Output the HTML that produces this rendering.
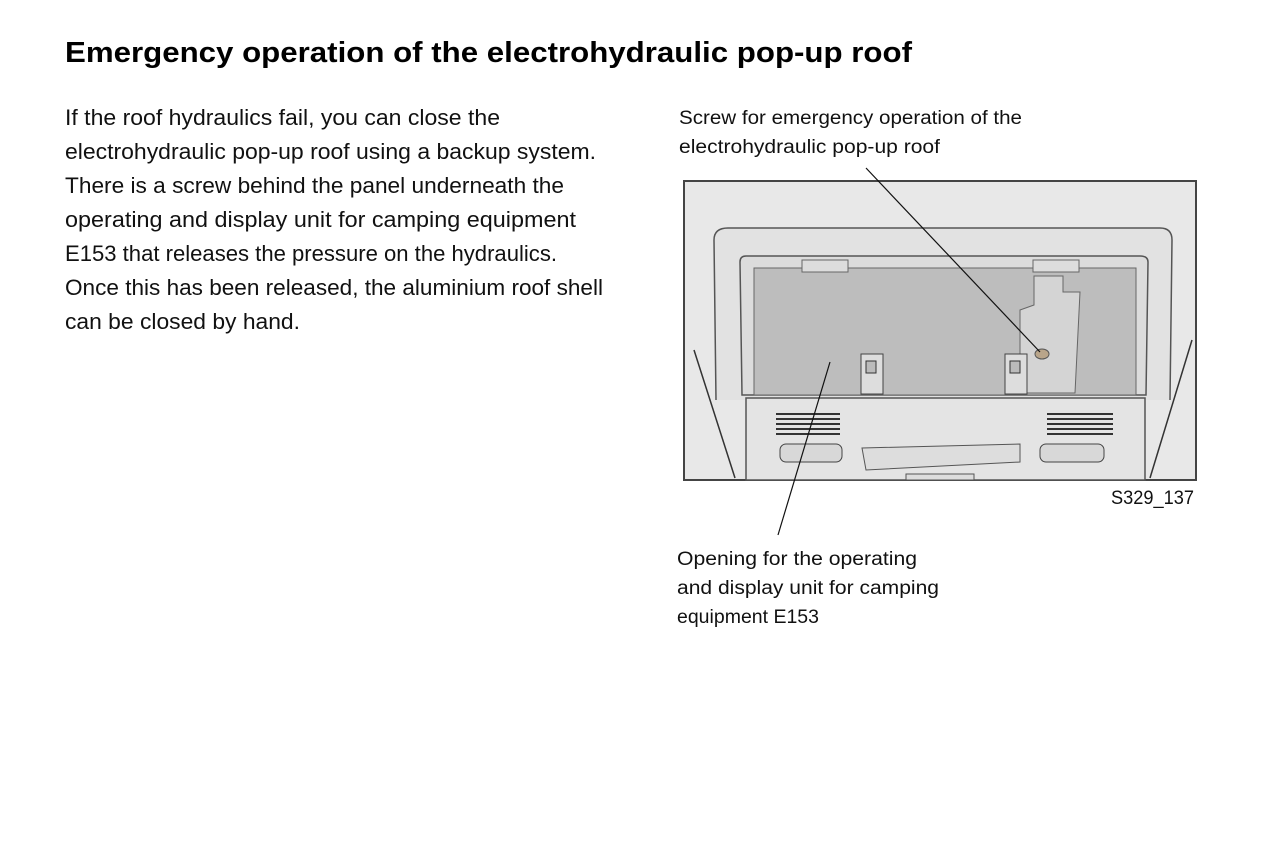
<!DOCTYPE html>
<html><head><meta charset="utf-8"><style>html,body{margin:0;padding:0;background:#fff}svg{display:block}</style></head>
<body>
<svg width="1284" height="850" viewBox="0 0 1284 850" xmlns="http://www.w3.org/2000/svg" font-family="Liberation Sans, sans-serif">
<text x="65" y="62" font-size="29" font-weight="bold" textLength="847" lengthAdjust="spacingAndGlyphs">Emergency operation of the electrohydraulic pop-up roof</text>
<g font-size="22" fill="#111" lengthAdjust="spacingAndGlyphs">
<text x="65" y="125" textLength="435" lengthAdjust="spacingAndGlyphs">If the roof hydraulics fail, you can close the</text>
<text x="65" y="159" textLength="531" lengthAdjust="spacingAndGlyphs">electrohydraulic pop-up roof using a backup system.</text>
<text x="65" y="193" textLength="499" lengthAdjust="spacingAndGlyphs">There is a screw behind the panel underneath the</text>
<text x="65" y="227" textLength="511" lengthAdjust="spacingAndGlyphs">operating and display unit for camping equipment</text>
<text x="65" y="261" textLength="492" lengthAdjust="spacingAndGlyphs">E153 that releases the pressure on the hydraulics.</text>
<text x="65" y="295" textLength="538" lengthAdjust="spacingAndGlyphs">Once this has been released, the aluminium roof shell</text>
<text x="65" y="329" textLength="235" lengthAdjust="spacingAndGlyphs">can be closed by hand.</text>
</g>
<g font-size="19" fill="#111">
<text x="679" y="124" textLength="343" lengthAdjust="spacingAndGlyphs">Screw for emergency operation of the</text>
<text x="679" y="153" textLength="261" lengthAdjust="spacingAndGlyphs">electrohydraulic pop-up roof</text>
<text x="677" y="565" textLength="240" lengthAdjust="spacingAndGlyphs">Opening for the operating</text>
<text x="677" y="594" textLength="262" lengthAdjust="spacingAndGlyphs">and display unit for camping</text>
<text x="677" y="623" textLength="142" lengthAdjust="spacingAndGlyphs">equipment E153</text>
<text x="1111" y="504" textLength="83" lengthAdjust="spacingAndGlyphs">S329_137</text>
</g>
<rect x="684" y="181" width="512" height="299" fill="#e8e8e8" stroke="#444" stroke-width="2"/>
<path d="M716 400 L714 240 Q714 228 728 228 L1160 228 Q1172 228 1172 240 L1170 400" fill="#e2e2e2" stroke="#555" stroke-width="1.5"/>
<path d="M742 395 L740 262 Q740 256 746 256 L1140 256 Q1148 256 1148 262 L1146 395 Z" fill="#dcdcdc" stroke="#555" stroke-width="1.5"/>
<rect x="754" y="268" width="382" height="127" fill="#bdbdbd" stroke="#666" stroke-width="1"/>
<rect x="802" y="260" width="46" height="12" fill="#ddd" stroke="#666"/>
<rect x="1033" y="260" width="46" height="12" fill="#ddd" stroke="#666"/>
<path d="M1034 276 L1063 276 L1063 292 L1080 292 L1075 393 L1032 393 L1020 393 L1020 310 L1034 305 Z" fill="#d4d4d4" stroke="#666"/>
<ellipse cx="1042" cy="354" rx="7" ry="5" fill="#b9a58a" stroke="#555"/>
<rect x="861" y="354" width="22" height="40" fill="#ddd" stroke="#444"/>
<rect x="866" y="361" width="10" height="12" fill="#bbb" stroke="#333"/>
<rect x="1005" y="354" width="22" height="40" fill="#ddd" stroke="#444"/>
<rect x="1010" y="361" width="10" height="12" fill="#bbb" stroke="#333"/>
<path d="M746 398 L1145 398 L1145 480 L746 480 Z" fill="#e4e4e4" stroke="#555" stroke-width="1.5"/>
<g stroke="#333" stroke-width="2">
<line x1="776" y1="414" x2="840" y2="414"/><line x1="776" y1="419" x2="840" y2="419"/><line x1="776" y1="424" x2="840" y2="424"/><line x1="776" y1="429" x2="840" y2="429"/><line x1="776" y1="434" x2="840" y2="434"/>
<line x1="1047" y1="414" x2="1113" y2="414"/><line x1="1047" y1="419" x2="1113" y2="419"/><line x1="1047" y1="424" x2="1113" y2="424"/><line x1="1047" y1="429" x2="1113" y2="429"/><line x1="1047" y1="434" x2="1113" y2="434"/>
</g>
<rect x="780" y="444" width="62" height="18" rx="6" fill="#d8d8d8" stroke="#444"/>
<rect x="1040" y="444" width="64" height="18" rx="6" fill="#d8d8d8" stroke="#444"/>
<path d="M862 448 L1020 444 L1020 462 L866 470 Z" fill="#ddd" stroke="#555"/>
<rect x="906" y="474" width="68" height="6" fill="#ddd" stroke="#555"/>
<path d="M694 350 L735 478" stroke="#333" stroke-width="1.5" fill="none"/>
<path d="M1192 340 L1150 478" stroke="#333" stroke-width="1.5" fill="none"/>
<line x1="866" y1="168" x2="1040" y2="352" stroke="#111" stroke-width="1.2"/>
<line x1="830" y1="362" x2="778" y2="535" stroke="#111" stroke-width="1.2"/>
</svg>
</body></html>
